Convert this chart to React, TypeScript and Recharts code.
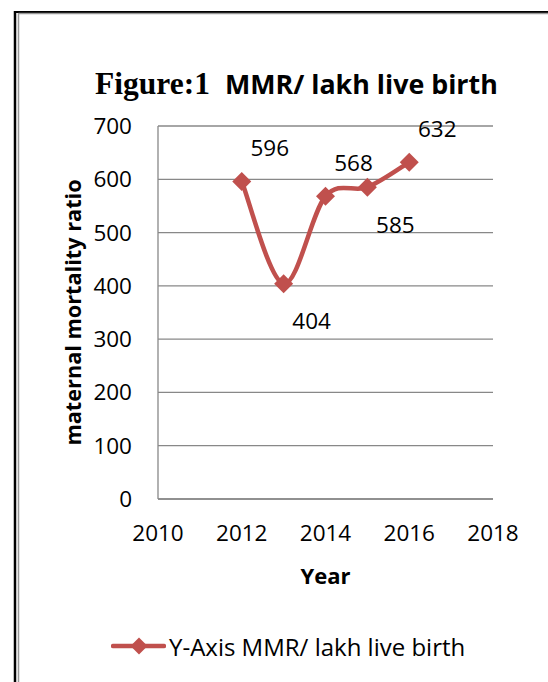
import { LineChart, Line, XAxis, YAxis, CartesianGrid, Legend, LabelList } from "recharts";

const YEARS = [2012, 2013, 2014, 2015, 2016];
const MMR = [596, 404, 568, 585, 632];
const X_TICKS = [2010, 2012, 2014, 2016, 2018];
const Y_TICKS = [0, 100, 200, 300, 400, 500, 600, 700];
const SERIES_NAME = "Y-Axis MMR/ lakh live birth";

// which side of the point each data label sits on (as in the original)
const LABEL_SIDE = ["above", "below", "above", "below", "above"];

const data = YEARS.map((year, i) => ({ year, mmr: MMR[i] }));

const RED = "#c0504d";
const GRID = "#888888";
const FONT = '"Open Sans", sans-serif';

// Excel-like smoothed line (Catmull-Rom through the points)
function smoothCurve(context: any) {
  let pts: number[][] = [];
  return {
    areaStart() {},
    areaEnd() {},
    lineStart() {
      pts = [];
    },
    point(x: number, y: number) {
      pts.push([+x, +y]);
    },
    lineEnd() {
      const n = pts.length;
      if (!n) return;
      context.moveTo(pts[0][0], pts[0][1]);
      for (let i = 0; i < n - 1; i++) {
        const p0 = pts[Math.max(i - 1, 0)];
        const p1 = pts[i];
        const p2 = pts[i + 1];
        const p3 = pts[Math.min(i + 2, n - 1)];
        context.bezierCurveTo(
          p1[0] + (p2[0] - p0[0]) / 6,
          p1[1] + (p2[1] - p0[1]) / 6,
          p2[0] - (p3[0] - p1[0]) / 6,
          p2[1] - (p3[1] - p1[1]) / 6,
          p2[0],
          p2[1],
        );
      }
    },
  };
}

function Diamond(props: any) {
  const { cx, cy, index } = props;
  if (cx == null || cy == null) return <g key={index} />;
  const r = 9.5;
  return (
    <path
      key={index}
      d={`M${cx},${cy - r}L${cx + r},${cy}L${cx},${cy + r}L${cx - r},${cy}Z`}
      fill={RED}
    />
  );
}

function ValueLabel(props: any) {
  const { x, y, value, index } = props;
  const dy = LABEL_SIDE[index] === "below" ? 37 : -34;
  return (
    <text
      x={x + 28}
      y={y + dy}
      textAnchor="middle"
      dominantBaseline="central"
      fontFamily={FONT}
      fontSize={22.5}
      fill="#000"
    >
      {value}
    </text>
  );
}

function YTitle(props: any) {
  const { viewBox } = props;
  const cx = viewBox.x + 72;
  const cy = viewBox.y + viewBox.height / 2;
  return (
    <text
      x={cx}
      y={cy}
      transform={`rotate(-90 ${cx} ${cy})`}
      textAnchor="middle"
      dominantBaseline="central"
      fontFamily={FONT}
      fontWeight={700}
      fontSize={21.7}
      fill="#000"
    >
      maternal mortality ratio
    </text>
  );
}

function LegendBox({ payload }: any) {
  const item = payload && payload[0];
  return (
    <div
      style={{
        height: 30,
        display: "flex",
        alignItems: "center",
        paddingLeft: 111,
        fontFamily: FONT,
        fontSize: 24,
        color: "#000",
      }}
    >
      <svg width={55} height={22} style={{ marginRight: 3 }}>
        <line x1={2} y1={11} x2={53} y2={11} stroke={RED} strokeWidth={4.5} strokeLinecap="round" />
        <path d="M28,2.5L36.5,11L28,19.5L19.5,11Z" fill={RED} />
      </svg>
      <span>{item ? item.value : SERIES_NAME}</span>
    </div>
  );
}

export default function App() {
  return (
    <div style={{ position: "absolute", left: 0, top: 0, width: 548, height: 682, background: "#fff" }}>
      <svg width={548} height={682} style={{ position: "absolute", left: 0, top: 0 }}>
        <line x1={14} y1={12} x2={548} y2={12} stroke="#000" strokeWidth={2} />
        <line x1={15} y1={11} x2={15} y2={682} stroke="#000" strokeWidth={2.5} />
        <line x1={18.5} y1={13.5} x2={548} y2={13.5} stroke="#999" strokeWidth={1.5} />
        <line x1={18.5} y1={13} x2={18.5} y2={682} stroke="#999" strokeWidth={1.5} />
        <text x={95} y={94} fontSize={31.5} fontWeight={700} fontFamily='"Liberation Serif", serif' fill="#000">
          Figure:1
        </text>
        <text x={225} y={94} fontSize={26.8} fontWeight={700} fontFamily={FONT} fill="#000">
          MMR/ lakh live birth
        </text>
      </svg>
      <div style={{ position: "absolute", left: 0, top: 0 }}>
        <LineChart
          width={548}
          height={682}
          data={data}
          margin={{ top: 126, right: 55, bottom: 21, left: 0 }}
        >
          <CartesianGrid vertical={false} stroke={GRID} strokeWidth={1.3} />
          <XAxis
            type="number"
            dataKey="year"
            domain={[2010, 2018]}
            ticks={X_TICKS}
            height={132}
            stroke={GRID}
            strokeWidth={1.3}
            tickLine={false}
            tickSize={0}
            tickMargin={26}
            tick={{ fill: "#000", fontSize: 22.5, fontFamily: FONT }}
            label={{
              value: "Year",
              position: "insideTop",
              offset: 69,
              fill: "#000",
              fontSize: 22,
              fontWeight: 700,
              fontFamily: FONT,
            }}
          />
          <YAxis
            domain={[0, 700]}
            ticks={Y_TICKS}
            width={158}
            stroke={GRID}
            strokeWidth={1.3}
            tickLine={false}
            tickSize={0}
            tickMargin={26}
            tick={{ fill: "#000", fontSize: 22.5, fontFamily: FONT }}
            label={{ content: YTitle }}
          />
          <Legend verticalAlign="bottom" content={LegendBox} />
          <Line
            dataKey="mmr"
            name={SERIES_NAME}
            type={smoothCurve as any}
            stroke={RED}
            strokeWidth={4.5}
            dot={Diamond}
            activeDot={false}
            isAnimationActive={false}
          >
            <LabelList dataKey="mmr" content={ValueLabel} />
          </Line>
        </LineChart>
      </div>
    </div>
  );
}
